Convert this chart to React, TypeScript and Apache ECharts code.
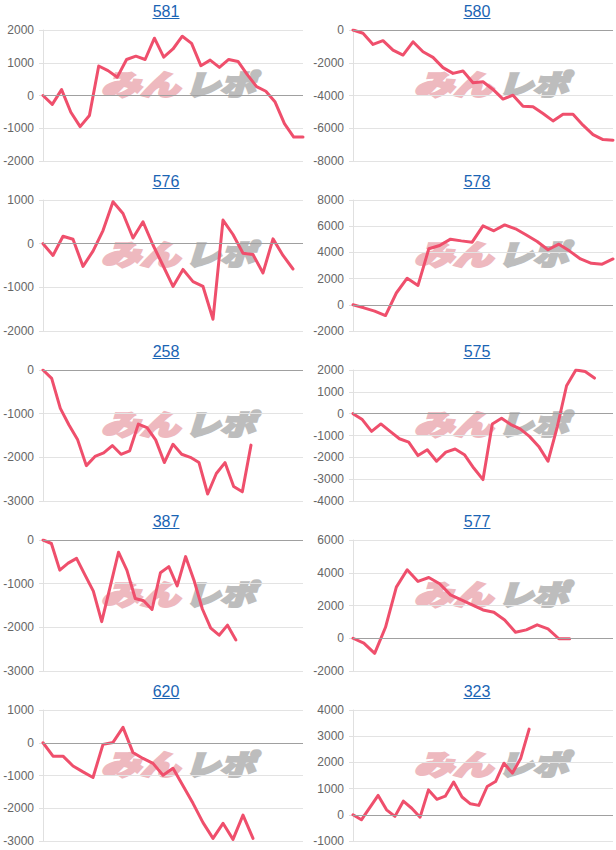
import React, { useEffect, useRef } from "react";
import * as echarts from "echarts";

const titles = ["581", "580", "576", "578", "258", "575", "387", "577", "620", "323"];
const dayCounts = [29, 27, 27, 25, 31, 29, 32, 25, 27, 32];

const s581 = [0, -270, 180, -510, -950, -610, 900, 760, 560, 1100, 1200, 1100, 1750, 1170, 1420, 1810, 1590, 910, 1080, 860, 1100, 1040, 640, 270, 130, -200, -860, -1270, -1270];
const s580 = [0, -200, -880, -650, -1230, -1530, -720, -1330, -1670, -2300, -2650, -2500, -3220, -3160, -3630, -4220, -3980, -4650, -4690, -5100, -5550, -5140, -5140, -5810, -6390, -6690, -6730];
const s576 = [0, -270, 170, 100, -520, -170, 300, 960, 690, 130, 500, -30, -500, -980, -590, -870, -980, -1730, 540, 210, -220, -250, -670, 110, -270, -580];
const s578 = [0, -230, -480, -820, 900, 2030, 1480, 4280, 4530, 5010, 4880, 4780, 6030, 5650, 6100, 5800, 5330, 4830, 4200, 4630, 4100, 3500, 3170, 3100, 3500];
const s258 = [0, -190, -880, -1260, -1600, -2190, -1980, -1900, -1730, -1930, -1850, -1240, -1320, -1600, -2120, -1700, -1930, -2000, -2120, -2840, -2370, -2120, -2670, -2790, -1720];
const s575 = [0, -270, -810, -470, -810, -1150, -1300, -1920, -1650, -2180, -1760, -1620, -1880, -2490, -3020, -470, -210, -500, -700, -1040, -1500, -2180, -600, 1280, 2000, 1930, 1630];
const s387 = [0, -80, -690, -530, -420, -800, -1170, -1870, -1080, -280, -690, -1340, -1390, -1590, -750, -610, -1050, -380, -920, -1580, -2020, -2180, -1950, -2290];
const s577 = [0, -300, -920, 670, 3120, 4180, 3470, 3710, 3330, 2650, 2350, 2040, 1730, 1590, 1120, 370, 510, 820, 570, -30, -30];
const s620 = [0, -410, -410, -710, -890, -1060, -50, 10, 470, -300, -480, -630, -990, -780, -1310, -1850, -2440, -2920, -2460, -2950, -2210, -2920];
const s323 = [0, -190, 270, 740, 190, -60, 520, 250, -90, 950, 590, 710, 1250, 680, 420, 360, 1080, 1270, 1970, 1590, 2160, 3270];

const seriesData = [s581, s580, s576, s578, s258, s575, s387, s577, s620, s323];
const yMins = [-2000, -8000, -2000, -2000, -3000, -4000, -3000, -2000, -3000, -1000];
const yMaxs = [2000, 0, 1000, 8000, 0, 2000, 0, 6000, 1000, 4000];
const yIntervals = [1000, 2000, 1000, 2000, 1000, 1000, 1000, 2000, 1000, 1000];

const ROW_H = 170;
const LINE_COLOR = "#ef4f6c";
const LINK_COLOR = "#1a64b4";
const FONT = "'Liberation Sans', Arial, sans-serif";

export default function App() {
  const ref = useRef<HTMLDivElement>(null);
  useEffect(() => {
    if (!ref.current) return;
    const chart = echarts.init(ref.current, undefined, { renderer: "svg" });
    const grids: any[] = [];
    const xAxes: any[] = [];
    const yAxes: any[] = [];
    const series: any[] = [];
    const graphics: any[] = [];
    titles.forEach((t, i) => {
      const col = i % 2;
      const row = Math.floor(i / 2);
      const top = row * ROW_H;
      const left = col === 0 ? 43 : 353;
      grids.push({ left, top: top + 30, width: 260, height: 131 });
      const cats: string[] = [];
      for (let k = 1; k <= dayCounts[i]; k++) cats.push(String(k));
      xAxes.push({
        type: "category",
        gridIndex: i,
        data: cats,
        boundaryGap: false,
        axisLine: { show: false },
        axisTick: { show: false },
        axisLabel: { show: false },
        splitLine: { show: false },
      });
      yAxes.push({
        type: "value",
        gridIndex: i,
        min: yMins[i],
        max: yMaxs[i],
        interval: yIntervals[i],
        axisLine: { show: true, lineStyle: { color: "#e0e0e0" } },
        axisTick: { show: true, length: 4, lineStyle: { color: "#e0e0e0" } },
        axisLabel: {
          color: "#666",
          fontSize: 12,
          fontFamily: FONT,
          margin: 9,
          formatter: (v: number) => String(v),
        },
        splitLine: { show: true, lineStyle: { color: "#e3e3e3", width: 1 } },
      });
      series.push({
        type: "line",
        xAxisIndex: i,
        yAxisIndex: i,
        data: [],
        z: 1,
        silent: true,
        markLine: {
          silent: true,
          symbol: "none",
          label: { show: false },
          lineStyle: { color: "#a0a0a0", width: 1, type: "solid" },
          data: [{ yAxis: 0 }],
        },
      });
      series.push({
        type: "line",
        xAxisIndex: i,
        yAxisIndex: i,
        data: seriesData[i],
        symbol: "none",
        z: 3,
        lineStyle: { color: LINE_COLOR, width: 3, cap: "round", join: "round" },
      });
      const cx = col === 0 ? 166 : 477;
      graphics.push({
        type: "text",
        x: cx,
        y: top + 11,
        style: {
          text: t,
          fontSize: 16,
          fontFamily: FONT,
          fill: LINK_COLOR,
          align: "center",
          verticalAlign: "middle",
        },
      });
      graphics.push({
        type: "line",
        shape: { x1: cx - 13.5, y1: top + 18.5, x2: cx + 13.5, y2: top + 18.5 },
        style: { stroke: LINK_COLOR, lineWidth: 1 },
      });
      const wx = col === 0 ? 101 : 414;
      graphics.push({
        type: "text",
        x: wx,
        y: top + 83,
        scaleX: 1.4,
        z: 0,
        silent: true,
        style: {
          text: "みん",
          fontSize: 28,
          fontWeight: 900,
          fontStyle: "italic",
          fontFamily: "'Noto Sans CJK JP'",
          fill: "#eeb9bf",
          stroke: "#eeb9bf",
          lineWidth: 2.5,
          align: "left",
          verticalAlign: "middle",
        },
      });
      graphics.push({
        type: "text",
        x: wx + 84,
        y: top + 83,
        scaleX: 1.25,
        z: 0,
        silent: true,
        style: {
          text: "レポ",
          fontSize: 28,
          fontWeight: 900,
          fontStyle: "italic",
          fontFamily: "'Noto Sans CJK JP'",
          fill: "#bdbdbd",
          stroke: "#bdbdbd",
          lineWidth: 2.5,
          align: "left",
          verticalAlign: "middle",
        },
      });
    });
    chart.setOption({
      animation: false,
      backgroundColor: "#ffffff",
      grid: grids,
      xAxis: xAxes,
      yAxis: yAxes,
      series,
      graphic: graphics,
    });
    return () => chart.dispose();
  }, []);
  return (
    <div
      ref={ref}
      style={{ position: "absolute", left: 0, top: 0, width: 616, height: 850 }}
    />
  );
}
